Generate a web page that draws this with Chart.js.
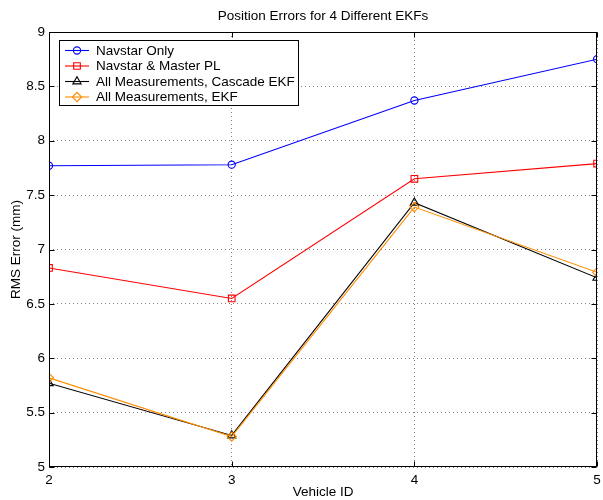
<!DOCTYPE html>
<html>
<head>
<meta charset="utf-8">
<script src="https://cdn.jsdelivr.net/npm/chart.js@4.4.1/dist/chart.umd.min.js"></script>
<style>
  html, body { margin: 0; padding: 0; background: #fff; }
  #wrap { width: 603px; height: 500px; }
</style>
</head>
<body>
<div id="wrap"><canvas id="c" width="603" height="500"></canvas></div>
<script>
// ---- data ----
const vehicleIds = [2, 3, 4, 5];
const navstarOnly = [7.77, 7.78, 8.37, 8.75];
const navstarMasterPL = [6.83, 6.55, 7.65, 7.79];
const allMeasCascade = [5.77, 5.29, 7.43, 6.74];
const allMeasEKF = [5.82, 5.28, 7.39, 6.79];
const seriesLabels = ['Navstar Only', 'Navstar & Master PL', 'All Measurements, Cascade EKF', 'All Measurements, EKF'];
const yTickMin = 5, yTickMax = 9, yTickStep = 0.5;
const xTickMin = 2, xTickMax = 5, xTickStep = 1;
const chartTitle = 'Position Errors for 4 Different EKFs';
const xTitle = 'Vehicle ID';
const yTitle = 'RMS Error (mm)';

const FONT = '"Liberation Sans", Arial, Helvetica, sans-serif';
const fs = 13.5;

function pts(arr) { return vehicleIds.map((x, i) => ({ x: x, y: arr[i] })); }

const styles = [
  { color: '#0000ff', pointStyle: 'circle', radius: 3.6, order: 3 },
  { color: '#ff0000', pointStyle: 'rect', radius: 4.7, order: 2 },
  { color: '#000000', pointStyle: 'triangle', radius: 4.8, order: 1 },
  { color: '#ff8c00', pointStyle: 'rectRot', radius: 4.6, order: 0 }
];
const seriesData = [navstarOnly, navstarMasterPL, allMeasCascade, allMeasEKF];

const datasets = seriesData.map((arr, i) => ({
  label: seriesLabels[i],
  data: pts(arr),
  borderColor: styles[i].color,
  backgroundColor: 'rgba(0,0,0,0)',
  borderWidth: 1.1,
  pointStyle: styles[i].pointStyle,
  pointRadius: styles[i].radius,
  pointHoverRadius: styles[i].radius,
  pointBorderWidth: 1.1,
  pointBorderColor: styles[i].color,
  pointBackgroundColor: 'rgba(0,0,0,0)',
  tension: 0,
  order: styles[i].order,
  xAxisID: 'x',
  yAxisID: 'y'
}));

// box, inward ticks, legend
const matlabPlugin = {
  id: 'matlabStyle',
  afterDraw(chart) {
    const ctx = chart.ctx;
    const a = chart.chartArea;
    const L = Math.round(a.left) + 0.5, R = Math.round(a.right) - 0.5;
    const T = Math.round(a.top) + 0.5, B = Math.round(a.bottom) - 0.5;
    ctx.save();
    ctx.strokeStyle = '#000';
    ctx.lineWidth = 1;
    ctx.setLineDash([]);
    ctx.strokeRect(L, T, R - L, B - T);
    const tl = 5;
    const xs = chart.scales.x, ys = chart.scales.y;
    ctx.beginPath();
    xs.ticks.forEach(t => {
      const px = Math.round(xs.getPixelForValue(t.value)) + 0.5;
      ctx.moveTo(px, B); ctx.lineTo(px, B - tl);
      ctx.moveTo(px, T); ctx.lineTo(px, T + tl);
    });
    ys.ticks.forEach(t => {
      const py = Math.round(ys.getPixelForValue(t.value)) + 0.5;
      ctx.moveTo(L, py); ctx.lineTo(L + tl, py);
      ctx.moveTo(R, py); ctx.lineTo(R - tl, py);
    });
    ctx.stroke();

    // legend
    const lx = 59.5, ly = 40.5, lw = 239, lh = 65;
    ctx.fillStyle = '#fff';
    ctx.fillRect(lx, ly, lw, lh);
    ctx.strokeStyle = '#000';
    ctx.lineWidth = 1;
    ctx.strokeRect(lx, ly, lw, lh);
    ctx.font = fs + 'px ' + FONT;
    ctx.textBaseline = 'middle';
    ctx.textAlign = 'left';
    chart.data.datasets.forEach((ds, i) => {
      const y = 50.5 + i * 15.5;
      ctx.strokeStyle = ds.borderColor;
      ctx.lineWidth = 1.1;
      ctx.beginPath();
      ctx.moveTo(65, y); ctx.lineTo(89, y);
      ctx.stroke();
      ctx.fillStyle = 'rgba(0,0,0,0)';
      Chart.helpers.drawPoint(ctx, {
        pointStyle: ds.pointStyle, radius: ds.pointRadius, rotation: 0, borderWidth: 1.1
      }, 77, y);
      ctx.fillStyle = '#000';
      ctx.fillText(ds.label, 96, y + 0.5);
    });
    ctx.restore();
  }
};

new Chart(document.getElementById('c'), {
  type: 'line',
  data: { datasets: datasets },
  options: {
    responsive: false,
    animation: false,
    events: [],
    layout: { padding: 0 },
    plugins: {
      legend: { display: false },
      title: { display: false },
      tooltip: { enabled: false }
    },
    scales: {
      x: {
        type: 'linear',
        position: 'bottom',
        min: xTickMin, max: xTickMax,
        ticks: { stepSize: xTickStep, color: '#000', font: { family: FONT, size: fs }, padding: 5, maxRotation: 0 },
        grid: { drawTicks: false, color: 'rgba(0,0,0,0.5)', lineWidth: 1 },
        border: { display: false, dash: [1, 3] },
        title: { display: true, text: xTitle, color: '#000', font: { family: FONT, size: fs }, padding: { top: 0, bottom: 0 } },
        afterFit(s) { s.height = 33; s.paddingLeft = 0; s.paddingRight = 4; }
      },
      x2: {
        type: 'linear',
        position: 'top',
        min: xTickMin, max: xTickMax,
        ticks: { display: false },
        grid: { display: false },
        border: { display: false },
        title: { display: true, text: chartTitle, color: '#000', font: { family: FONT, size: fs }, padding: { top: 8, bottom: 0 } },
        afterFit(s) { s.height = 32; s.paddingLeft = 0; s.paddingRight = 0; }
      },
      y: {
        type: 'linear',
        position: 'left',
        min: yTickMin, max: yTickMax,
        ticks: { stepSize: yTickStep, color: '#000', font: { family: FONT, size: fs }, padding: 4,
                 callback: (v) => String(v) },
        grid: { drawTicks: false, color: 'rgba(0,0,0,0.5)', lineWidth: 1 },
        border: { display: false, dash: [1, 3] },
        title: { display: true, text: yTitle, color: '#000', font: { family: FONT, size: fs }, padding: { top: 8, bottom: 0 } },
        afterFit(s) { s.width = 49; s.paddingTop = 0; s.paddingBottom = 0; }
      }
    }
  },
  plugins: [matlabPlugin]
});
</script>
</body>
</html>
